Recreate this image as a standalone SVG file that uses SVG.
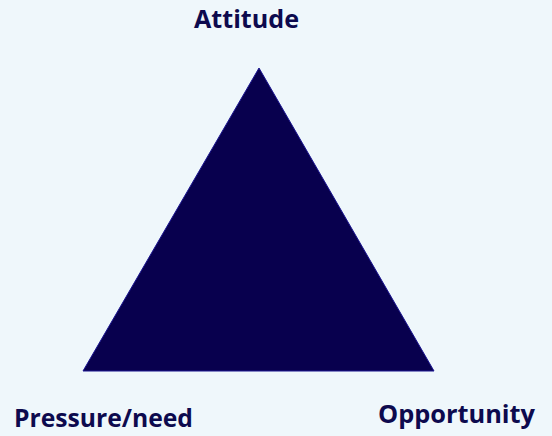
<svg xmlns="http://www.w3.org/2000/svg" width="552" height="436" viewBox="0 0 552 436">
<style>
.lbl{font-family:"Open Sans","Liberation Sans",sans-serif;font-weight:bold;font-size:25px;fill:#0d0a4e}
</style>
<rect width="552" height="436" fill="#eff7fb"/>
<g id="triangle">
<polygon points="259,68 83,371 434,371" fill="#08004e" stroke="#1a1490" stroke-width="1"/>
</g>
<g id="attitude"><text class="lbl" x="194" y="28" textLength="105" lengthAdjust="spacingAndGlyphs">Attitude</text></g>
<g id="pressure"><text class="lbl" x="14" y="427" textLength="179" lengthAdjust="spacingAndGlyphs">Pressure/need</text></g>
<g id="opportunity"><text class="lbl" x="378" y="423" textLength="157" lengthAdjust="spacingAndGlyphs">Opportunity</text></g>
</svg>
